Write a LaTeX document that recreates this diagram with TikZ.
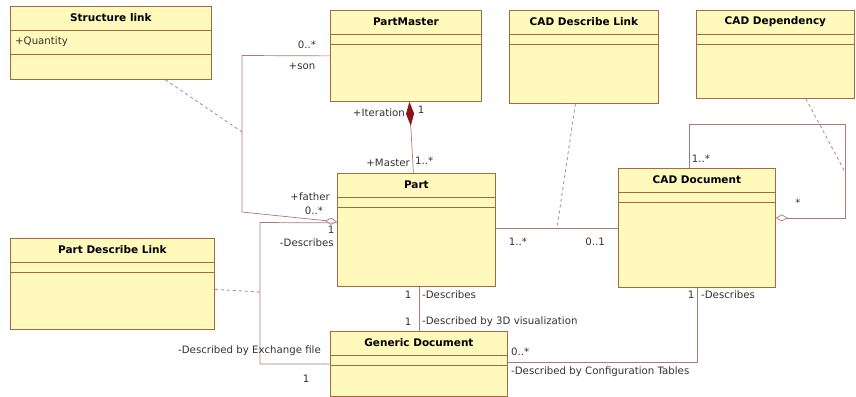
\documentclass[tikz,border=0pt]{standalone}
\usepackage{fontspec}
\setmainfont{DejaVu Sans}
\usetikzlibrary{arrows.meta,calc}
\definecolor{clsfill}{RGB}{255,249,188}
\definecolor{clsdraw}{RGB}{165,105,70}
\definecolor{assocline}{RGB}{175,120,120}
\definecolor{dashline}{RGB}{190,140,140}
\definecolor{compfill}{RGB}{140,20,25}
\definecolor{labeltext}{RGB}{50,50,50}
\begin{document}
\begin{tikzpicture}[
    x=1pt, y=-1pt,
    cls/.style={draw=clsdraw, fill=clsfill, line width=0.8pt, rectangle, inner sep=0pt, anchor=north west},
    clstitle/.style={font=\fontsize{10.5}{12}\selectfont\bfseries, text=black},
    clsline/.style={draw=clsdraw, line width=0.8pt},
    assoc/.style={draw=assocline, line width=0.7pt},
    assocdash/.style={draw=dashline, line width=0.9pt, dash pattern=on 3pt off 3pt},
    lbl/.style={font=\fontsize{10.2}{12}\selectfont, text=labeltext, inner sep=1pt},
    aggr/.style={-{Diamond[open, length=12pt, width=7pt]}},
    compo/.style={{Diamond[color=compfill, length=24pt, width=8pt]}-}
  ]
  \useasboundingbox (0,0) rectangle (856,396);

  % classes
  \node[cls, minimum width=201pt, minimum height=73pt] (slink) at (10,6) {};
  \node[cls, minimum width=151pt, minimum height=91pt] (pmaster) at (330,10) {};
  \node[cls, minimum width=149pt, minimum height=93pt] (cdlink) at (509,10) {};
  \node[cls, minimum width=158pt, minimum height=88pt] (cdep) at (696,10) {};
  \node[cls, minimum width=158pt, minimum height=113pt] (part) at (337,173) {};
  \node[cls, minimum width=157pt, minimum height=119pt] (cadd) at (618,168) {};
  \node[cls, minimum width=204pt, minimum height=91pt] (plink) at (10,238) {};
  \node[cls, minimum width=177pt, minimum height=65pt] (gdoc) at (330,331) {};

  \foreach \c/\t in {slink/Structure link, pmaster/PartMaster, cdlink/CAD Describe Link,
      cdep/CAD Dependency, part/Part, cadd/CAD Document, plink/Part Describe Link,
      gdoc/Generic Document}
    \node[clstitle] (\c-title) at ([yshift=-12pt]\c.north) {\t};

  \foreach \c in {pmaster,cdlink,cdep,part,cadd,plink,gdoc}{
    \draw[clsline] ([yshift=-24pt]\c.north west) -- ([yshift=-24pt]\c.north east);
    \draw[clsline] ([yshift=-34pt]\c.north west) -- ([yshift=-34pt]\c.north east);
  }
  \draw[clsline] ([yshift=-24pt]slink.north west) -- ([yshift=-24pt]slink.north east);
  \draw[clsline] ([yshift=-48pt]slink.north west) -- ([yshift=-48pt]slink.north east);
  \node[lbl, anchor=west] (qty) at (14,42) {+Quantity};

  % bends and feet of association classes
  \coordinate (sonbend) at (242,55.5);
  \coordinate (fatherbend) at (242,212);
  \coordinate (slinkfoot) at (242,132);
  \coordinate (descbend) at (260,222.5);
  \coordinate (exchbend) at (260,364);
  \coordinate (plinkfoot) at (260,292);
  \coordinate (cdlinkfoot) at (557,228);
  \coordinate (selftop) at (845,124);
  \coordinate (cdepfoot) at (845,172);

  % associations
  \draw[assoc] (pmaster.west) -- (sonbend) -- (fatherbend);
  \draw[assoc, aggr] (fatherbend) -- ([yshift=8pt]part.west);
  \draw[assoc] ([yshift=7pt]part.west) -- (descbend) -- (exchbend) -- (gdoc.west |- exchbend);
  \draw[assoc, compo] ([xshift=3.5pt]pmaster.south) -- ([xshift=-3pt]part.north);
  \draw[assoc] ([yshift=1.5pt]part.east) -- ([yshift=1.5pt]part.east -| cadd.west);
  \draw[assoc, aggr] ([xshift=-8pt]cadd.north) |- (selftop) |- ([yshift=10pt]cadd.east);
  \draw[assoc] (cadd.south) |- ([yshift=1.5pt]gdoc.east);
  \draw[assoc] (gdoc.north |- part.south) -- (gdoc.north);

  % association class links
  \draw[assocdash] ([xshift=54.5pt]slink.south) -- (slinkfoot);
  \draw[assocdash] ([yshift=-5.5pt]plink.east) -- (plinkfoot);
  \draw[assocdash] ([xshift=-8.5pt]cdlink.south) -- (cdlinkfoot);
  \draw[assocdash] ([xshift=30.5pt]cdep.south) -- (cdepfoot);

  % roles and multiplicities
  \node[lbl] (sonmult) at (307,45) {0..*};
  \node[lbl] (sonrole) at (302,66) {+son};
  \node[lbl, anchor=east] (iterrole) at (406,113) {+Iteration};
  \node[lbl] (itermult) at (421,110) {1};
  \node[lbl, anchor=east] (masterrole) at (411,163) {+Master};
  \node[lbl, anchor=west] (mastermult) at (414,161) {1..*};
  \node[lbl, anchor=east] (fatherrole) at (331,197) {+father};
  \node[lbl] (fathermult) at (314,211) {0..*};
  \node[lbl] (descmult) at (331,230) {1};
  \node[lbl, anchor=east] (descrole) at (335,243) {-Describes};
  \node[lbl, anchor=east] (exchrole) at (322,351) {-Described by Exchange file};
  \node[lbl] (exchmult) at (306,379) {1};
  \node[lbl] (partcadmult) at (518,242) {1..*};
  \node[lbl] (cadpartmult) at (595,242) {0..1};
  \node[lbl] (gdescmult) at (408,295) {1};
  \node[lbl, anchor=west] (gdescrole) at (421,295) {-Describes};
  \node[lbl] (vismult) at (408,322) {1};
  \node[lbl, anchor=west] (visrole) at (421,322) {-Described by 3D visualization};
  \node[lbl, anchor=west] (cfgmult) at (510,352) {0..*};
  \node[lbl, anchor=west] (cfgrole) at (510,372) {-Described by Configuration Tables};
  \node[lbl] (caddescmult) at (691,295) {1};
  \node[lbl, anchor=west] (caddescrole) at (700,295) {-Describes};
  \node[lbl] (selfmult) at (701,159) {1..*};
  \node[lbl] (selfstar) at (798,203) {*};
\end{tikzpicture}
\end{document}
